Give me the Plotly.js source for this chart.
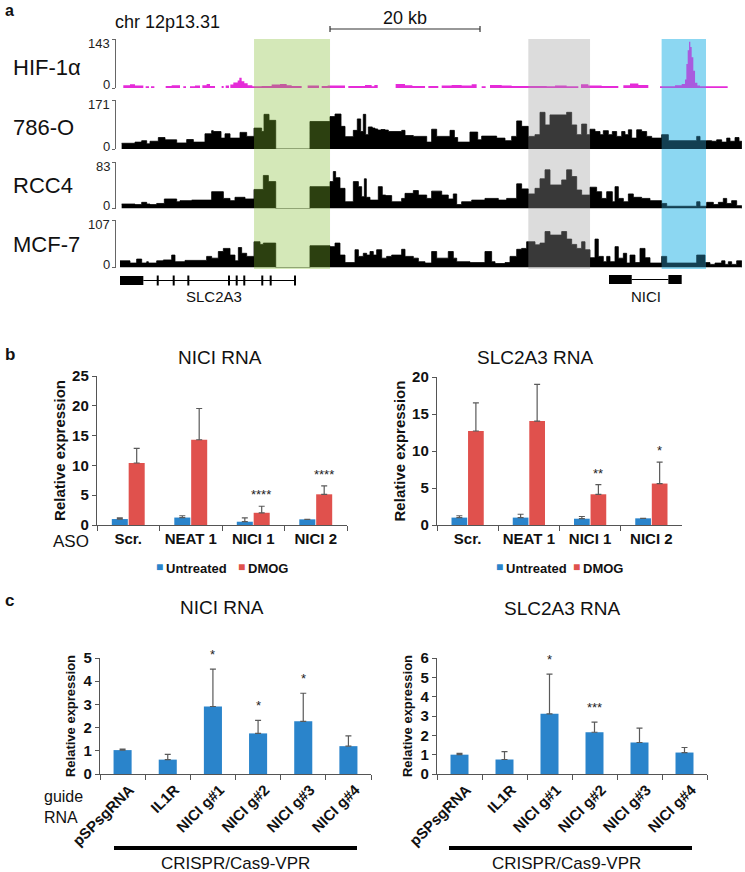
<!DOCTYPE html>
<html><head><meta charset="utf-8">
<script src="https://cdn.plot.ly/plotly-3.0.1.min.js"></script>
<style>html,body{margin:0;padding:0;background:#fff}#chart{width:745px;height:872px}</style>
</head><body><div id="chart"></div>
<script>
// ---------- Panel a: genome tracks (x in kb) ----------
const trackNames = ['HIF-1\u03b1', '786-O', 'RCC4', 'MCF-7'];
const trackMax = [143, 171, 83, 107];

const hifX = [0.44,1.33,2.0,3.11,3.42,3.87,4.13,4.58,6.09,6.89,8.0,8.44,8.8,9.33,10.0,10.67,10.98,11.55,12.0,12.67,13.55,13.82,14.09,14.53,14.71,15.11,15.69,15.91,16.22,16.58,17.02,17.64,18.89,20.22,21.33,22.22,22.89,24.22,25.02,26.53,26.89,27.69,30.0,30.44,32.67,33.55,33.91,34.36,36.75,38.0,38.98,40.67,41.11,42.44,42.89,44.22,45.55,46.89,47.55,48.22,48.75,49.33,50.89,52.22,54.44,55.33,56.89,58.0,59.55,61.11,61.46,62.44,64.22,66.44,67.11,68.0,69.11,70.44,72.0,74.0,74.89,75.33,75.51,75.69,75.87,76.04,76.22,76.44,76.67,76.98,77.33,81.02];
const hifY = [8,11,7,0,5,0,5,0,6,8,0,5,0,5,7,0,8,12,6,0,6,0,7,0,10,16,22,30,20,14,8,5,6,10,12,8,6,0,7,0,6,7,0,6,9,5,9,0,12,8,6,0,6,0,7,9,7,11,0,5,0,9,7,6,6,6,5,7,5,0,11,7,6,0,8,13,9,0,5,8,12,25,70,110,135,120,90,50,15,7,5,0];

const o786X = [0.22,2.0,2.89,3.56,4.0,5.11,6.0,7.56,8.89,9.78,11.33,12.22,12.44,13.47,14.0,14.67,16.0,16.89,17.87,18.89,19.2,19.87,20.76,25.33,28.0,28.67,29.47,30.0,31.11,31.64,32.09,32.44,32.76,33.11,33.64,34.0,34.36,34.8,35.33,35.78,37.56,38.0,39.11,40.89,41.55,42.22,44.0,44.58,45.02,46.66,47.69,48.22,50.22,51.33,52.22,52.89,53.55,54.44,55.33,56.0,56.67,57.33,59.55,60.22,60.89,61.55,62.22,62.66,63.33,64.0,64.44,65.11,65.64,66.22,66.89,67.33,67.78,68.22,68.89,69.55,70.22,70.89,72.22,73.11,76.89,77.33,78.22,78.89,79.55,80.22,80.89,81.33,82.0,82.53,82.89];
const o786Y = [20,24,29,18,27,40,32,21,33,24,53,64,61,38,53,38,58,44,73,61,121,100,0,96,113,122,79,43,65,105,61,121,50,77,73,70,66,68,66,61,65,47,44,24,69,44,65,40,24,59,32,45,38,29,44,98,79,44,50,128,84,119,128,84,50,87,50,69,61,50,64,50,61,44,61,50,67,38,67,61,44,38,50,29,44,29,29,27,32,24,38,27,40,27,0];

const rccX = [0.22,2.0,2.89,3.56,4.0,4.89,5.91,7.56,8.0,9.56,12.22,13.78,14.67,15.33,16.67,17.87,19.11,19.78,20.76,25.33,28.0,28.44,28.75,29.33,30.0,31.11,31.78,32.22,32.58,32.84,33.33,34.44,34.97,35.42,36.22,37.55,38.0,39.11,39.78,40.89,41.55,42.89,43.77,44.44,44.89,45.55,46.89,48.66,50.44,51.55,52.89,53.55,54.44,55.33,56.0,56.67,57.33,58.89,59.55,60.22,60.89,61.55,62.66,63.55,64.22,64.89,65.64,66.0,66.44,67.11,67.78,68.44,69.55,70.66,72.22,72.89,76.89,77.33,78.22,79.11,79.78,80.44,80.89,81.55,82.22,82.89];
const rccY = [8,7,11,8,7,9,17,12,14,15,30,18,14,20,17,34,59,48,0,39,48,66,55,36,12,48,39,21,53,20,15,39,24,23,12,18,27,32,24,18,31,24,17,26,7,12,15,18,15,18,44,35,26,36,53,69,42,51,69,57,33,24,38,30,18,30,12,39,18,12,26,20,18,14,9,4,12,4,11,7,11,18,9,14,5,0];

const mcfX = [0.0,1.33,2.22,2.89,3.56,3.78,4.89,5.78,6.89,7.33,8.67,11.55,12.22,13.11,13.78,14.67,15.33,15.78,16.22,16.89,17.87,18.67,19.11,20.76,25.33,28.0,28.67,29.33,30.0,31.33,31.78,32.44,32.89,33.33,33.77,34.22,34.89,35.55,36.22,37.55,38.0,39.11,39.78,40.66,41.55,42.22,43.77,44.44,44.89,46.66,48.66,49.55,50.0,51.33,52.0,52.89,53.55,54.22,55.33,56.0,56.67,57.33,58.89,59.55,60.22,60.89,61.55,62.0,62.66,63.33,63.77,64.44,64.89,65.33,66.0,66.44,67.11,67.55,68.0,68.66,69.33,70.0,70.66,72.22,72.89,76.89,78.0,78.66,79.33,80.22,80.66,81.11,81.55,82.22,82.89];
const mcfY = [15,10,19,10,13,10,15,17,28,13,16,25,21,36,43,28,15,45,32,25,58,52,55,0,49,47,55,28,11,40,25,32,28,36,28,40,21,25,28,41,25,21,13,10,36,21,36,21,13,11,36,13,9,11,25,41,43,58,51,55,81,73,81,64,52,43,58,40,22,64,25,13,25,13,47,21,32,10,28,11,43,22,10,25,10,28,11,7,10,15,7,13,7,15,0];

const trackX = [hifX, o786X, rccX, mcfX];
const trackY = [hifY, o786Y, rccY, mcfY];

// gene models (kb)
const slc2a3Block = [0, 3.11];
const slc2a3Intron = [3.11, 23.33];
const slc2a3Exons = [5.03, 7.16, 9.11, 14.53, 15.56, 16.57, 18.97, 20.09, 23.33];
const niciBlocks = [[65.2, 68.23], [73.11, 74.89]];
const niciIntron = [68.23, 73.11];
const highlightRanges = [[17.87, 28.0], [54.44, 62.67], [72.22, 78.13]];
const scaleBar = [28.0, 48.0];

// ---------- Panel b ----------
const bCats = ['Scr.', 'NEAT 1', 'NICI 1', 'NICI 2'];
const bNiciUntreated = [1.0, 1.25, 0.55, 0.95];
const bNiciUntreatedErr = [0.2, 0.3, 0.65, 0];
const bNiciDMOG = [10.4, 14.3, 2.05, 5.15];
const bNiciDMOGErr = [2.45, 5.25, 1.1, 1.4];
const bNiciStars = ['', '', '****', '****'];
const bSlcUntreated = [1.0, 1.0, 0.85, 0.9];
const bSlcUntreatedErr = [0.25, 0.45, 0.3, 0];
const bSlcDMOG = [12.7, 14.05, 4.15, 5.6];
const bSlcDMOGErr = [3.8, 4.95, 1.3, 2.9];
const bSlcStars = ['', '', '**', '*'];

// ---------- Panel c ----------
const cCats = ['pSPsgRNA', 'IL1R', 'NICI g#1', 'NICI g#2', 'NICI g#3', 'NICI g#4'];
const cNici = [1.03, 0.62, 2.91, 1.75, 2.27, 1.2];
const cNiciErr = [0.04, 0.23, 1.61, 0.56, 1.21, 0.44];
const cNiciStars = ['', '', '*', '*', '*', ''];
const cSlc = [1.0, 0.75, 3.11, 2.16, 1.63, 1.11];
const cSlcErr = [0.07, 0.41, 2.06, 0.52, 0.74, 0.26];
const cSlcStars = ['', '', '*', '***', '', ''];

// ---------- build ----------
const W = 745, H = 872;
const px = v => v / W, py = v => 1 - v / H;
const FONT = 'Liberation Sans, Arial, sans-serif';
const BLUE = '#2a84cb', RED = '#e0514d', ERR = '#5a5a5a', AX = '#555555';

const traces = [];
trackX.forEach((xs, i) => {
  traces.push({
    type: 'scatter', mode: 'lines', x: xs, y: trackY[i],
    xaxis: 'x', yaxis: i === 0 ? 'y' : 'y' + (i + 1),
    line: {shape: 'hv', width: i === 0 ? 0 : 0.8, color: i === 0 ? '#e52bd8' : '#000'},
    fill: 'tozeroy', fillcolor: i === 0 ? '#e52bd8' : '#000',
    hoverinfo: 'skip', showlegend: false
  });
});

const zeros = n => new Array(n).fill(0);
function barTrace(cats, vals, errs, color, xa, ya, name, width) {
  const t = {
    type: 'bar', x: cats, y: vals, xaxis: xa, yaxis: ya, name: name,
    marker: {color: color, line: {width: 0}}, showlegend: false,
    error_y: {type: 'data', array: errs, arrayminus: zeros(errs.length), symmetric: false,
              color: ERR, thickness: 1.2, width: 3}
  };
  if (width) t.width = width;
  return t;
}
traces.push(barTrace(bCats, bNiciUntreated, bNiciUntreatedErr, BLUE, 'x2', 'y5', 'Untreated'));
traces.push(barTrace(bCats, bNiciDMOG, bNiciDMOGErr, RED, 'x2', 'y5', 'DMOG'));
traces.push(barTrace(bCats, bSlcUntreated, bSlcUntreatedErr, BLUE, 'x3', 'y6', 'Untreated'));
traces.push(barTrace(bCats, bSlcDMOG, bSlcDMOGErr, RED, 'x3', 'y6', 'DMOG'));
traces.push(barTrace(cCats, cNici, cNiciErr, BLUE, 'x4', 'y7', 'NICI RNA', 0.4));
traces.push(barTrace(cCats, cSlc, cSlcErr, BLUE, 'x5', 'y8', 'SLC2A3 RNA', 0.4));

// axes
function trackY_axis(i, top, bot) {
  return {
    domain: [py(bot), py(top)], range: [0, trackMax[i]], anchor: 'free', position: px(115),
    showline: true, linecolor: '#666', linewidth: 1, ticks: 'outside', ticklen: 3, tickcolor: '#666',
    tickvals: [0, trackMax[i]], showticklabels: false,
    showgrid: false, zeroline: false, automargin: false, fixedrange: true
  };
}
function catX(d0, d1, ya, angle, fs, shift) {
  return {
    domain: [px(d0), px(d1)], anchor: ya, type: 'category', showline: true, linecolor: AX, linewidth: 1.2,
    ticks: 'outside', tickson: 'boundaries', ticklen: 5, tickcolor: AX, tickangle: angle,
    ticklabelshift: shift || 0,
    tickfont: {size: fs, weight: 'bold', color: '#111', family: FONT},
    showgrid: false, zeroline: false, automargin: false
  };
}
function valY(top, bot, xa, max, dtick, fs, tfs, standoff) {
  return {
    domain: [py(bot), py(top)], anchor: xa, range: [0, max], dtick: dtick, showline: true, linecolor: AX, linewidth: 1.2,
    ticks: 'outside', ticklen: 4, tickcolor: AX, tickfont: {size: fs, weight: 'bold', color: '#111', family: FONT},
    title: {text: 'Relative expression', font: {size: tfs, weight: 'bold', color: '#111', family: FONT}, standoff: standoff},
    showgrid: false, zeroline: false, automargin: false
  };
}

const layout = {
  width: W, height: H, margin: {l: 0, r: 0, t: 0, b: 0},
  paper_bgcolor: '#fff', plot_bgcolor: 'rgba(0,0,0,0)',
  font: {family: FONT, color: '#111'},
  barmode: 'group', bargap: 0.46, bargroupgap: 0.05, showlegend: false,
  xaxis: {domain: [px(120), px(742)], range: [0, 82.93], visible: false, anchor: 'y4', fixedrange: true},
  yaxis: trackY_axis(0, 39, 88),
  yaxis2: trackY_axis(1, 100, 149),
  yaxis3: trackY_axis(2, 162, 208.5),
  yaxis4: trackY_axis(3, 220, 267.5),
  xaxis2: catX(97, 347, 'y5', 0, 15),
  yaxis5: valY(376, 525, 'x2', 25, 5, 15, 15, 2),
  xaxis3: catX(437, 682, 'y6', 0, 15),
  yaxis6: valY(377, 525, 'x3', 20, 5, 15, 15, 2),
  xaxis4: catX(100, 371, 'y7', -45, 15, 7),
  yaxis7: valY(658, 774, 'x4', 5, 1, 15, 13, 5),
  xaxis5: catX(437, 707, 'y8', -45, 15, 7),
  yaxis8: valY(658, 774, 'x5', 6, 1, 15, 13, 5),
  shapes: [], annotations: []
};

const S = layout.shapes, A = layout.annotations;
// highlights
const hlTop = py(39), hlBot = py(269);
S.push({type: 'rect', xref: 'x', yref: 'paper', x0: highlightRanges[2][0], x1: highlightRanges[2][1], y0: hlBot, y1: hlTop,
        fillcolor: 'rgb(186,234,246)', line: {width: 0}, layer: 'below'});
S.push({type: 'rect', xref: 'x', yref: 'paper', x0: highlightRanges[0][0], x1: highlightRanges[0][1], y0: hlBot, y1: hlTop,
        fillcolor: 'rgb(129,188,47)', opacity: 0.34, line: {width: 0}, layer: 'above'});
S.push({type: 'rect', xref: 'x', yref: 'paper', x0: highlightRanges[1][0], x1: highlightRanges[1][1], y0: hlBot, y1: hlTop,
        fillcolor: 'rgb(159,159,159)', opacity: 0.36, line: {width: 0}, layer: 'above'});
S.push({type: 'rect', xref: 'x', yref: 'paper', x0: highlightRanges[2][0], x1: highlightRanges[2][1], y0: hlBot, y1: hlTop,
        fillcolor: 'rgb(54,180,234)', opacity: 0.35, line: {width: 0}, layer: 'above'});
// scale bar
S.push({type: 'line', xref: 'x', yref: 'paper', x0: scaleBar[0], x1: scaleBar[1], y0: py(29), y1: py(29), line: {color: '#333', width: 1.2}});
scaleBar.forEach(v => S.push({type: 'line', xref: 'x', yref: 'paper', x0: v, x1: v, y0: py(26), y1: py(32), line: {color: '#333', width: 1.2}}));
// gene models
S.push({type: 'rect', xref: 'x', yref: 'paper', x0: slc2a3Block[0], x1: slc2a3Block[1], y0: py(285), y1: py(276), fillcolor: '#000', line: {width: 0}});
S.push({type: 'line', xref: 'x', yref: 'paper', x0: slc2a3Intron[0], x1: slc2a3Intron[1], y0: py(280.5), y1: py(280.5), line: {color: '#000', width: 1.2}});
slc2a3Exons.forEach(v => S.push({type: 'line', xref: 'x', yref: 'paper', x0: v, x1: v, y0: py(285.5), y1: py(275.5), line: {color: '#000', width: 2}}));
niciBlocks.forEach(b => S.push({type: 'rect', xref: 'x', yref: 'paper', x0: b[0], x1: b[1], y0: py(284), y1: py(275), fillcolor: '#000', line: {width: 0}}));
S.push({type: 'line', xref: 'x', yref: 'paper', x0: niciIntron[0], x1: niciIntron[1], y0: py(279.5), y1: py(279.5), line: {color: '#000', width: 1.2}});
// CRISPR bars
S.push({type: 'line', xref: 'paper', yref: 'paper', x0: px(114), x1: px(357), y0: py(848), y1: py(848), line: {color: '#000', width: 4}});
S.push({type: 'line', xref: 'paper', yref: 'paper', x0: px(449), x1: px(692), y0: py(848), y1: py(848), line: {color: '#000', width: 4}});

function txt(text, x, y, size, opts) {
  A.push(Object.assign({text: text, xref: 'paper', yref: 'paper', x: px(x), y: py(y), showarrow: false,
    xanchor: 'left', yanchor: 'middle', font: {size: size, color: '#111', family: FONT}}, opts || {}));
}
txt('<b>a</b>', 3, 0, 16, {yanchor: 'top'});
txt('<b>b</b>', 3, 355, 17);
txt('<b>c</b>', 3, 600, 17);
txt('chr 12p13.31', 113, 22, 18);
A.push({text: '20 kb', xref: 'x', yref: 'paper', x: (scaleBar[0] + scaleBar[1]) / 2, y: py(18), showarrow: false,
        xanchor: 'center', yanchor: 'middle', font: {size: 18, color: '#111', family: FONT}});
const labelY = [67, 127, 185, 245];
trackNames.forEach((n, i) => txt(n, 11, labelY[i], 22));
// track scale labels (max at top, 0 at bottom)
trackMax.forEach((m, i) => {
  const ya = i === 0 ? 'y' : 'y' + (i + 1);
  A.push({text: String(m), xref: 'paper', yref: ya, x: px(112), y: m, showarrow: false, xanchor: 'right', yanchor: 'middle',
          yshift: -5, font: {size: 13, color: '#222', family: FONT}});
  A.push({text: '0', xref: 'paper', yref: ya, x: px(112), y: 0, showarrow: false, xanchor: 'right', yanchor: 'middle',
          yshift: 3, font: {size: 13, color: '#222', family: FONT}});
});
A.push({text: 'SLC2A3', xref: 'x', yref: 'paper', x: 12.5, y: py(297), showarrow: false, xanchor: 'center', yanchor: 'middle', font: {size: 15, color: '#111', family: FONT}});
A.push({text: 'NICI', xref: 'x', yref: 'paper', x: 70.1, y: py(297), showarrow: false, xanchor: 'center', yanchor: 'middle', font: {size: 15, color: '#111', family: FONT}});

txt('NICI RNA', 220, 357, 19, {xanchor: 'center'});
txt('SLC2A3 RNA', 535, 357, 19, {xanchor: 'center'});
txt('NICI RNA', 222, 607, 19, {xanchor: 'center'});
txt('SLC2A3 RNA', 562, 608, 19, {xanchor: 'center'});
txt('ASO', 51, 541, 17);
txt('guide<br>RNA', 42, 807, 16, {align: 'left'});
txt('CRISPR/Cas9-VPR', 235, 863, 17, {xanchor: 'center'});
txt('CRISPR/Cas9-VPR', 566, 863, 17, {xanchor: 'center'});

// legends
function legend(x0, x1) {
  txt('<span style="color:' + BLUE + '">\u25A0</span>', x0, 567, 12, {xanchor: 'center'});
  txt('<b>Untreated</b>', x0 + 4, 568, 13);
  txt('<span style="color:' + RED + '">\u25A0</span>', x1, 567, 12, {xanchor: 'center'});
  txt('<b>DMOG</b>', x1 + 4, 568, 13);
}
legend(159.5, 241.5);
legend(499.5, 576.5);

// significance stars
function stars(cats, vals, errs, marks, xa, ya, shift, ys) {
  marks.forEach((m, i) => {
    if (!m) return;
    A.push({text: m, xref: xa, yref: ya, x: cats[i], y: vals[i] + errs[i], showarrow: false,
            xanchor: 'center', yanchor: 'bottom', xshift: shift, yshift: ys, font: {size: 13, color: '#222', family: FONT}});
  });
}
stars(bCats, bNiciDMOG, bNiciDMOGErr, bNiciStars, 'x2', 'y5', 8, 2);
stars(bCats, bSlcDMOG, bSlcDMOGErr, bSlcStars, 'x3', 'y6', 8, 2);
stars(cCats, cNici, cNiciErr, cNiciStars, 'x4', 'y7', 0, 5);
stars(cCats, cSlc, cSlcErr, cSlcStars, 'x5', 'y8', 0, 5);

Plotly.newPlot('chart', traces, layout, {staticPlot: true, displayModeBar: false});
</script></body></html>
